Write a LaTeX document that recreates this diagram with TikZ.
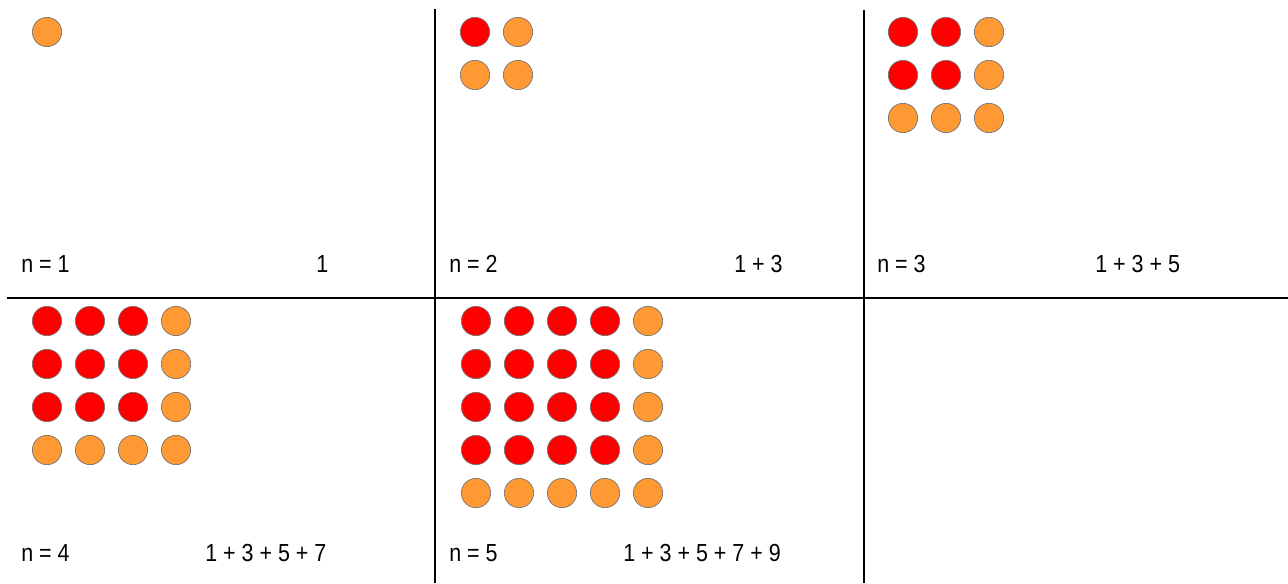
\documentclass[tikz,border=0pt]{standalone}
\usepackage{fontspec}
\setmainfont{Liberation Sans}[FakeStretch=0.87]
\usepackage{tikz}
\definecolor{dotorange}{RGB}{255,153,51}
\definecolor{dotred}{RGB}{255,0,0}
\tikzset{
  dot/.style={circle,draw=gray!90!black,line width=0.5pt,minimum size=22pt,inner sep=0pt},
  lbl/.style={anchor=base west,inner sep=0pt,font=\fontsize{18.5}{21}\selectfont},
  sep/.style={line width=1.5pt},
}
\begin{document}
\begin{tikzpicture}[x=0.75pt,y=-0.75pt]
  \useasboundingbox (0,0) rectangle (1288,583);
  % grid lines between the panels
  \coordinate (hl) at (7,298);
  \coordinate (hr) at (1288,298);
  \coordinate (va) at (435,9);
  \coordinate (vb) at (435,583);
  \coordinate (vc) at (864,10);
  \coordinate (vd) at (864,583);
  \draw[sep] (hl) -- (hr);
  \draw[sep] (va) -- (vb);
  \draw[sep] (vc) -- (vd);
  % square of dots, one per panel
  \foreach \n/\ox/\oy in {1/47/32,2/475/32,3/903/32,4/47/321,5/476/321}{
    \foreach \i in {1,...,\n}{
      \foreach \j in {1,...,\n}{
        \ifnum\i<\n \ifnum\j<\n \def\dotcol{dotred}\else\def\dotcol{dotorange}\fi
        \else\def\dotcol{dotorange}\fi
        \node[dot,fill=\dotcol] (d\n-\i-\j) at ({\ox+43*(\i-1)},{\oy+43*(\j-1)}) {};
      }
    }
  }
  % labels
  \node[lbl] (n1) at (21,272) {n = 1};
  \node[lbl] (s1) at (316,272) {1};
  \node[lbl] (n2) at (449,272) {n = 2};
  \node[lbl] (s2) at (734,272) {1 + 3};
  \node[lbl] (n3) at (877,272) {n = 3};
  \node[lbl] (s3) at (1095,272) {1 + 3 + 5};
  \node[lbl] (n4) at (21,561) {n = 4};
  \node[lbl] (s4) at (205,561) {1 + 3 + 5 + 7};
  \node[lbl] (n5) at (449,561) {n = 5};
  \node[lbl] (s5) at (623,561) {1 + 3 + 5 + 7 + 9};
\end{tikzpicture}
\end{document}
